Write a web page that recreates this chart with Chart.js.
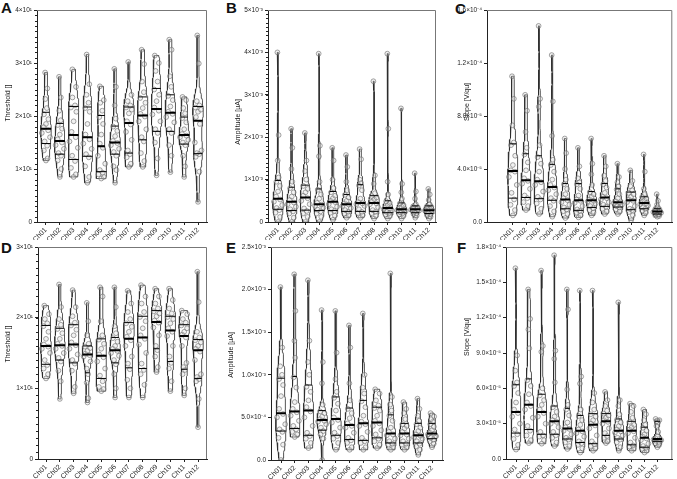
<!DOCTYPE html>
<html>
<head>
<meta charset="utf-8">
<script src="https://cdn.jsdelivr.net/npm/chart.js@4.4.0/dist/chart.umd.min.js"></script>
<style>
  body { margin: 0; background: #fff; width: 677px; height: 479px; position: relative; overflow: hidden; }
  canvas { position: absolute; }
  .tag { position: absolute; font: bold 15px "Liberation Sans", Arial, sans-serif; line-height: 15px; color: #111; }
</style>
</head>
<body>
<div class="tag" style="left:1px;top:0px">A</div>
<div class="tag" style="left:226px;top:0px">B</div>
<div class="tag" style="left:455px;top:1px">C</div>
<div class="tag" style="left:1px;top:240px">D</div>
<div class="tag" style="left:226px;top:240px">E</div>
<div class="tag" style="left:457px;top:240px">F</div>
<canvas id="cA"></canvas>
<canvas id="cB"></canvas>
<canvas id="cC"></canvas>
<canvas id="cD"></canvas>
<canvas id="cE"></canvas>
<canvas id="cF"></canvas>
<script>
const channels = ['Ch01','Ch02','Ch03','Ch04','Ch05','Ch06','Ch07','Ch08','Ch09','Ch10','Ch11','Ch12'];

// A - threshold, first group
const thr1Pts = [
  [11.6,12.0,13.5,14.4,15.2,16.0,16.8,17.3,17.9,18.5,19.4,20.3,21.5,23.2,25.2,28.2],
  [8.5,10.0,11.6,12.5,13.0,13.8,14.5,15.0,15.6,16.5,17.6,18.3,19.2,21.0,23.5,27.4],
  [8.5,9.0,10.2,11.5,12.5,14.0,15.2,16.0,17.0,19.0,20.8,21.6,22.0,23.5,25.5,28.8],
  [7.4,8.5,10.5,12.2,12.8,13.8,14.8,15.6,16.5,18.5,20.8,21.5,22.5,24.0,26.0,31.6],
  [8.2,8.5,9.0,9.3,9.8,11.0,12.5,14.0,14.8,16.5,18.5,19.8,21.0,22.5,23.0,25.6],
  [7.4,9.8,10.5,12.5,13.2,13.8,14.5,14.9,15.3,16.2,17.2,18.0,19.5,22.0,25.5,28.9],
  [10.4,11.0,12.2,12.8,13.5,15.5,17.0,18.4,19.0,20.5,21.2,21.6,22.0,22.8,24.0,30.2],
  [10.4,11.5,13.0,15.2,16.0,17.5,19.0,19.9,20.4,21.5,22.5,23.4,24.5,26.5,29.8,32.5],
  [8.8,12.0,15.0,16.8,17.5,19.0,20.3,21.0,21.6,22.8,24.0,25.0,26.5,28.5,30.0,31.4],
  [9.4,12.5,14.5,16.8,17.5,18.8,19.8,20.4,20.8,21.8,23.0,23.8,25.5,27.5,32.5,34.4],
  [8.5,10.5,12.5,14.5,15.0,15.5,16.0,16.3,16.6,17.5,18.8,19.6,20.5,21.5,23.0,23.6],
  [3.8,9.5,12.3,12.8,13.0,13.5,15.0,18.5,19.8,20.8,21.2,21.6,22.0,22.8,29.9,35.2]
];
const thr1Q1  = [14.8,12.8,11.8,12.4,9.5,12.8,13.0,15.5,17.1,17.1,14.7,12.9];
const thr1Med = [17.6,15.3,16.4,16.0,14.3,15.0,18.7,20.1,21.3,20.6,16.4,19.1];
const thr1Q3  = [20.7,18.6,21.8,21.7,20.1,18.1,21.7,23.6,25.2,24.0,19.8,21.8];
const thr1Ticks = [0,10,20,30,40];
const thr1Labels = ['0','1×10¹','2×10¹','3×10¹','4×10¹'];

// B - amplitude, first group (values in 10^-3 µA)
const amp1Pts = [
  [0.0,0.12,0.22,0.28,0.33,0.40,0.48,0.53,0.60,0.72,0.85,0.95,1.05,1.45,2.05,4.0],
  [0.0,0.10,0.20,0.25,0.30,0.36,0.42,0.46,0.52,0.60,0.70,0.80,0.95,1.25,1.75,2.2],
  [0.0,0.12,0.20,0.26,0.32,0.42,0.50,0.56,0.62,0.70,0.78,0.85,1.0,1.2,1.45,2.1],
  [0.0,0.12,0.20,0.25,0.29,0.34,0.38,0.41,0.45,0.55,0.65,0.76,0.95,1.55,1.8,3.97],
  [0.05,0.15,0.22,0.26,0.30,0.36,0.42,0.47,0.50,0.56,0.62,0.70,0.80,1.0,1.45,1.75],
  [0.10,0.16,0.20,0.24,0.28,0.33,0.38,0.41,0.44,0.50,0.58,0.64,0.75,0.95,1.3,1.58],
  [0.10,0.16,0.21,0.24,0.30,0.38,0.42,0.44,0.47,0.55,0.75,0.86,0.92,1.0,1.48,1.72],
  [0.08,0.15,0.21,0.24,0.28,0.35,0.42,0.44,0.48,0.54,0.58,0.61,0.68,0.9,1.1,3.32],
  [0.08,0.14,0.18,0.21,0.24,0.27,0.30,0.32,0.35,0.40,0.45,0.49,0.65,0.95,2.2,3.97],
  [0.08,0.14,0.18,0.21,0.23,0.26,0.28,0.30,0.32,0.36,0.40,0.44,0.55,0.7,0.9,2.68],
  [0.10,0.15,0.19,0.21,0.24,0.27,0.29,0.30,0.31,0.33,0.35,0.37,0.42,0.55,0.72,1.15],
  [0.08,0.12,0.16,0.19,0.22,0.25,0.27,0.28,0.30,0.33,0.36,0.37,0.42,0.52,0.65,0.78]
];
const amp1Q1  = [0.30,0.27,0.28,0.27,0.27,0.25,0.25,0.25,0.22,0.22,0.22,0.20];
const amp1Med = [0.55,0.48,0.58,0.42,0.48,0.42,0.45,0.45,0.33,0.30,0.30,0.28];
const amp1Q3  = [0.98,0.82,0.87,0.78,0.72,0.65,0.88,0.62,0.50,0.45,0.38,0.38];
const amp1Ticks = [0,1,2,3,4,5];
const amp1Labels = ['0','1×10⁻³','2×10⁻³','3×10⁻³','4×10⁻³','5×10⁻³'];

// C - slope, first group (values in 10^-5)
const slope1Pts = [
  [0.5,0.9,1.3,1.7,2.2,2.8,3.4,3.8,3.9,4.3,5.0,5.8,6.0,7.3,9.3,11.0],
  [0.9,1.2,1.5,1.8,2.0,2.5,2.9,3.1,3.3,3.9,4.5,5.1,5.6,6.8,8.4,9.6],
  [0.6,1.0,1.4,1.7,1.9,2.3,2.8,3.0,3.2,3.8,4.4,4.9,5.8,8.7,9.3,14.8],
  [0.4,0.8,1.2,1.6,1.8,2.1,2.4,2.6,2.8,3.2,3.8,4.3,4.7,6.5,9.1,12.6],
  [0.3,0.6,0.8,0.95,1.1,1.3,1.5,1.65,1.8,2.1,2.5,2.85,3.2,4.0,5.2,6.3],
  [0.35,0.5,0.7,0.85,0.95,1.2,1.45,1.6,1.7,2.0,2.5,2.85,3.0,3.3,4.2,5.6],
  [0.5,0.7,0.9,1.05,1.2,1.4,1.55,1.6,1.7,1.9,2.1,2.25,2.8,3.6,4.4,6.3],
  [0.6,0.8,1.0,1.15,1.3,1.5,1.7,1.8,1.9,2.2,2.6,2.85,3.1,3.5,4.2,5.0],
  [0.6,0.8,0.95,1.1,1.2,1.3,1.4,1.48,1.55,1.8,2.1,2.45,2.7,3.0,3.4,4.4],
  [0.13,0.5,0.75,0.9,1.0,1.2,1.5,1.6,1.7,1.9,2.1,2.2,2.4,2.7,3.1,3.9],
  [0.5,0.7,0.85,1.0,1.1,1.25,1.35,1.42,1.5,1.65,1.8,1.9,2.1,2.5,3.8,5.1],
  [0.4,0.45,0.5,0.58,0.65,0.7,0.75,0.8,0.82,0.88,0.95,1.0,1.1,1.3,1.6,2.1]
];
const slope1Q1  = [1.8,1.85,1.76,1.64,1.0,0.88,1.1,1.18,1.13,0.93,1.0,0.6];
const slope1Med = [3.85,3.15,3.07,2.64,1.7,1.64,1.65,1.84,1.5,1.64,1.43,0.8];
const slope1Q3  = [5.9,5.15,5.0,4.35,2.9,2.9,2.3,2.9,2.5,2.26,1.9,1.0];
const slope1Ticks = [0,4,8,12,16];
const slope1Labels = ['0.0','4.0×10⁻⁵','8.0×10⁻⁵','1.2×10⁻⁴','1.6×10⁻⁴'];

// D - threshold, second group
const thr2Pts = [
  [11.4,12.0,12.8,13.3,14.0,15.0,15.6,15.9,16.2,17.0,18.0,18.8,19.2,19.8,20.5,21.7],
  [8.5,11.0,12.5,13.8,14.3,15.0,15.6,16.0,16.3,17.0,17.8,18.4,19.0,19.8,21.5,24.7],
  [9.3,10.2,12.5,13.5,14.0,14.8,15.6,16.1,16.5,17.5,18.3,18.9,19.3,20.2,21.5,23.9],
  [8.0,8.6,10.8,12.0,12.8,13.8,14.5,14.7,14.9,15.3,15.7,15.9,16.3,17.5,19.5,22.1],
  [9.6,9.9,10.2,11.0,11.8,12.8,13.8,14.4,14.8,15.6,16.3,16.9,17.5,19.5,23.0,24.3],
  [8.7,10.0,12.0,13.4,14.0,14.6,15.0,15.3,15.6,16.0,16.6,17.1,17.8,18.8,21.5,24.3],
  [8.7,10.0,11.2,12.7,13.5,14.5,16.0,16.8,17.3,18.0,18.7,19.2,19.8,20.8,22.0,23.8],
  [8.7,10.5,12.0,12.6,13.5,15.0,16.2,17.0,17.5,18.5,19.5,20.1,20.8,22.0,23.0,24.6],
  [12.3,13.0,14.5,15.4,16.0,17.5,18.6,19.3,19.6,20.2,20.6,20.9,21.3,22.0,23.0,24.1],
  [9.6,11.0,12.8,13.6,14.5,16.0,17.4,18.0,18.5,19.2,19.8,20.1,20.6,21.3,22.5,24.1],
  [9.0,10.0,12.0,12.6,13.0,13.6,16.0,17.2,17.6,18.0,18.5,18.9,19.3,19.8,20.5,21.0],
  [4.5,8.5,11.0,11.3,11.6,12.0,14.0,15.2,15.6,16.0,16.5,16.8,17.2,18.0,22.2,26.5]
];
const thr2Q1  = [13.4,14.0,13.6,12.2,11.4,13.6,12.9,12.8,15.6,13.8,12.7,11.4];
const thr2Med = [16.0,16.1,16.2,14.8,14.6,15.4,17.0,17.2,19.4,18.2,17.4,15.4];
const thr2Q3  = [18.9,18.5,19.0,16.0,17.0,17.2,19.3,20.2,21.0,20.2,19.0,16.9];
const thr2Ticks = [0,10,20,30];
const thr2Labels = ['0','1×10¹','2×10¹','3×10¹'];

// E - amplitude, second group (values in 10^-4 µA)
const amp2Pts = [
  [0.0,1.8,2.6,3.3,3.6,4.2,5.0,5.4,6.0,7.5,8.8,9.5,10.0,11.0,13.2,20.3],
  [2.7,3.0,3.3,3.6,4.0,4.6,5.2,5.6,6.0,6.8,8.5,9.7,12.0,14.0,17.5,21.8],
  [1.4,2.0,2.5,2.8,3.2,4.0,5.0,5.7,6.2,7.0,8.0,8.6,10.0,11.5,14.0,21.1],
  [0.0,2.5,3.0,3.4,3.8,4.2,4.5,4.6,4.8,5.1,5.5,5.7,6.5,9.0,11.5,17.6],
  [1.2,2.0,2.5,2.8,3.2,3.8,4.4,4.7,5.0,5.8,6.6,7.3,8.0,9.5,12.6,17.5],
  [1.2,1.5,2.0,2.3,2.6,3.2,3.8,4.0,4.3,4.9,5.5,6.0,7.0,9.0,13.2,15.8],
  [1.2,1.5,2.0,2.2,2.6,3.3,4.0,4.2,4.5,5.2,6.2,6.9,7.8,8.5,10.0,17.2],
  [1.4,1.8,2.2,2.5,3.0,3.5,4.0,4.3,4.6,5.2,5.8,6.1,6.4,7.0,7.8,8.3],
  [1.2,1.5,1.8,1.9,2.2,2.5,2.9,3.0,3.3,3.8,4.6,5.2,5.8,6.5,7.4,21.9],
  [1.2,1.5,1.8,1.9,2.2,2.5,2.9,3.0,3.3,3.7,4.0,4.2,4.8,5.5,6.0,6.8],
  [0.6,1.2,1.6,1.9,2.2,2.5,2.7,2.85,3.0,3.4,3.8,4.2,4.6,5.2,6.0,7.2],
  [1.5,1.9,2.2,2.4,2.6,2.8,3.0,3.1,3.2,3.5,3.9,4.2,4.5,4.8,5.1,5.5]
];
const amp2Q1  = [3.4,3.7,2.9,3.5,2.9,2.4,2.3,2.6,2.0,2.0,2.0,2.5];
const amp2Med = [5.5,5.7,5.8,4.7,4.8,4.1,4.3,4.4,3.1,3.1,2.9,3.1];
const amp2Q3  = [9.6,9.8,8.8,5.8,7.4,6.1,7.0,6.2,5.3,4.3,4.3,4.3];
const amp2Ticks = [0,5,10,15,20,25];
const amp2Labels = ['0.0','5.0×10⁻⁴','1.0×10⁻³','1.5×10⁻³','2.0×10⁻³','2.5×10⁻³'];

// F - slope, second group (values in 10^-5)
const slope2Pts = [
  [0.8,1.2,1.7,2.1,2.5,3.0,3.6,3.9,4.2,4.8,5.6,6.2,6.5,7.5,8.8,16.2],
  [1.35,1.6,2.0,2.4,2.8,3.5,4.2,4.5,4.8,5.5,6.2,6.7,9.4,11.0,11.9,14.4],
  [1.3,1.6,1.9,2.0,2.3,3.0,3.6,3.9,4.2,4.6,5.0,5.4,6.0,9.1,9.6,16.0],
  [1.1,1.4,1.8,2.0,2.3,2.7,3.0,3.15,3.3,3.6,4.0,4.4,6.5,8.5,9.2,17.3],
  [0.85,1.1,1.4,1.65,1.8,2.1,2.4,2.55,2.7,3.1,3.7,4.2,4.6,5.9,12.7,14.4],
  [0.55,0.9,1.2,1.35,1.5,1.9,2.2,2.35,2.5,2.9,3.3,3.65,4.2,6.4,7.0,14.3],
  [0.7,0.9,1.1,1.25,1.5,2.0,2.6,2.85,3.0,3.3,3.6,3.8,4.2,4.8,5.6,14.3],
  [1.35,1.5,1.8,1.95,2.2,2.6,3.0,3.15,3.3,3.5,3.7,3.85,4.1,4.5,5.0,5.7],
  [0.7,1.0,1.4,1.65,1.8,2.0,2.25,2.35,2.5,2.8,3.1,3.35,3.8,4.5,5.0,13.3],
  [0.7,0.9,1.05,1.15,1.4,1.8,2.2,2.35,2.5,2.7,2.9,3.15,3.5,4.0,4.5,4.7],
  [0.55,0.7,0.85,0.95,1.1,1.3,1.6,1.75,1.9,2.1,2.4,2.65,2.9,3.3,3.8,4.2],
  [1.0,1.2,1.35,1.45,1.55,1.6,1.65,1.7,1.75,1.9,2.3,2.8,3.1,3.2,3.3,3.4]
];
const slope2Q1  = [2.2,2.5,2.1,2.1,1.7,1.4,1.3,2.0,1.7,1.2,1.0,1.5];
const slope2Med = [4.0,4.6,4.0,3.2,2.6,2.4,2.9,3.2,2.4,2.4,1.8,1.7];
const slope2Q3  = [6.3,6.8,5.5,4.5,4.3,3.7,3.85,3.85,3.4,3.2,2.7,3.2];
const slope2Ticks = [0,3,6,9,12,15,18];
const slope2Labels = ['0.0','3.0×10⁻⁵','6.0×10⁻⁵','9.0×10⁻⁵','1.2×10⁻⁴','1.5×10⁻⁴','1.8×10⁻⁴'];

Chart.defaults.font.family = '"Liberation Sans", Arial, sans-serif';
Chart.defaults.color = '#222';

// box = canvas [x, y, w, h]; area = plot [left, top, right, bottom]; tpos = y title centre, all page px
const panels = [
  { id:'cA', box:[0,0,226,240],     area:[37,10,207,222],   xr:[-0.65,11.65], pts:thr1Pts,   q1:thr1Q1,   med:thr1Med,   q3:thr1Q3,   ticks:thr1Ticks,   labels:thr1Labels,   title:'Threshold []',   tpos:[8,103],   minor:1 },
  { id:'cB', box:[226,0,225,240],   area:[268,10,436,222],  xr:[-0.73,11.51], pts:amp1Pts,   q1:amp1Q1,   med:amp1Med,   q3:amp1Q3,   ticks:amp1Ticks,   labels:amp1Labels,   title:'Amplitude [µA]', tpos:[238,122], minor:0.1 },
  { id:'cC', box:[451,0,226,240],   area:[487,10,673,222],  xr:[-1.97,12.14], pts:slope1Pts, q1:slope1Q1, med:slope1Med, q3:slope1Q3, ticks:slope1Ticks, labels:slope1Labels, title:'Slope [V/qu]',   tpos:[467,102], minor:0 },
  { id:'cD', box:[0,240,226,239],   area:[38,247,207,459],  xr:[-0.58,11.65], pts:thr2Pts,   q1:thr2Q1,   med:thr2Med,   q3:thr2Q3,   ticks:thr2Ticks,   labels:thr2Labels,   title:'Threshold []',   tpos:[8,344],   minor:1 },
  { id:'cE', box:[226,240,225,239], area:[271,247,443,460], xr:[-0.73,11.8],  pts:amp2Pts,   q1:amp2Q1,   med:amp2Med,   q3:amp2Q3,   ticks:amp2Ticks,   labels:amp2Labels,   title:'Amplitude [µA]', tpos:[231,355], minor:0 },
  { id:'cF', box:[451,240,226,239], area:[506,247,673,459], xr:[-0.78,12.16], pts:slope2Pts, q1:slope2Q1, med:slope2Med, q3:slope2Q3, ticks:slope2Ticks, labels:slope2Labels, title:'Slope [V/qu]',   tpos:[467,337], minor:0 }
];

const HALF = 0.38;
const jitter = [0, 0.55, -0.55, 0.28, -0.28, 0.8, -0.8, 0.42, -0.42];

function kde(vals, h, y) {
  let s = 0;
  for (const v of vals) { const u = (y - v) / h; s += Math.exp(-0.5 * u * u); }
  return s;
}

function bandwidth(vals) {
  const s = [...vals].sort((a, b) => a - b), n = s.length;
  const mean = s.reduce((a, b) => a + b, 0) / n;
  const sd = Math.sqrt(s.reduce((a, b) => a + (b - mean) ** 2, 0) / (n - 1));
  const iqr = s[Math.floor(n * 0.75)] - s[Math.floor(n * 0.25)];
  return 0.9 * Math.min(sd, iqr / 1.34) * Math.pow(n, -0.2) * 0.75;
}

function buildSets(p) {
  const outline = [], dots = [], qLines = [], mLines = [];
  p.pts.forEach((vals, i) => {
    const lo = Math.min(...vals), hi = Math.max(...vals);
    const h = bandwidth(vals);
    const N = 90, ys = [], ds = [];
    for (let k = 0; k <= N; k++) { const y = lo + (hi - lo) * k / N; ys.push(y); ds.push(kde(vals, h, y)); }
    const dmax = Math.max(...ds);
    const half = y => kde(vals, h, y) / dmax * HALF;
    ys.forEach((y, k) => outline.push({ x: i + ds[k] / dmax * HALF, y }));
    for (let k = N; k >= 0; k--) outline.push({ x: i - ds[k] / dmax * HALF, y: ys[k] });
    outline.push({ x: i + ds[0] / dmax * HALF, y: ys[0] });
    outline.push({ x: null, y: null });
    [...vals].sort((a, b) => a - b).forEach((v, k) => {
      dots.push({ x: i + half(v) * jitter[k % jitter.length], y: v });
    });
    [p.q1[i], p.q3[i]].forEach(q => {
      const w = half(q);
      qLines.push({ x: i - w, y: q }, { x: i + w, y: q }, { x: null, y: null });
    });
    const wm = half(p.med[i]);
    mLines.push({ x: i - wm, y: p.med[i] }, { x: i + wm, y: p.med[i] }, { x: null, y: null });
  });
  return { outline, dots, qLines, mLines };
}

// gray top/right frame, minor y ticks and the rotated y title
const framePlugin = {
  id: 'frame',
  afterDraw(chart, args, opts) {
    const { ctx, chartArea: a } = chart;
    ctx.save();
    ctx.strokeStyle = '#777';
    ctx.lineWidth = 1;
    ctx.beginPath();
    ctx.moveTo(a.left, a.top + 0.5);
    ctx.lineTo(a.right - 0.5, a.top + 0.5);
    ctx.lineTo(a.right - 0.5, a.bottom);
    ctx.stroke();
    if (opts.minor) {
      const y = chart.scales.y;
      ctx.strokeStyle = '#222';
      ctx.beginPath();
      for (let v = 0; v <= y.max + 1e-9; v += opts.minor) {
        const py = Math.round(y.getPixelForValue(v)) + 0.5;
        ctx.moveTo(a.left - 2, py);
        ctx.lineTo(a.left, py);
      }
      ctx.stroke();
    }
    ctx.translate(opts.tx, opts.ty);
    ctx.rotate(-Math.PI / 2);
    ctx.fillStyle = '#222';
    ctx.font = '7px "Liberation Sans", Arial, sans-serif';
    ctx.textAlign = 'center';
    ctx.textBaseline = 'middle';
    ctx.fillText(opts.title, 0, 0);
    ctx.restore();
  }
};

panels.forEach(p => {
  const cv = document.getElementById(p.id);
  const [bx, by, bw, bh] = p.box;
  const [al, at, ar, ab] = p.area;
  cv.width = bw; cv.height = bh;
  cv.style.left = bx + 'px'; cv.style.top = by + 'px';
  cv.style.width = bw + 'px'; cv.style.height = bh + 'px';
  const s = buildSets(p);
  const yMax = p.ticks[p.ticks.length - 1];

  new Chart(cv, {
    type: 'scatter',
    data: {
      datasets: [
        { type: 'line', data: s.mLines, borderColor: '#000', borderWidth: 2, pointRadius: 0, order: 1 },
        { type: 'line', data: s.qLines, borderColor: '#000', borderWidth: 1, pointRadius: 0, order: 1 },
        { data: s.dots, pointRadius: 2.4, pointBorderWidth: 0.7,
          pointBorderColor: 'rgba(105,105,105,0.85)', pointBackgroundColor: 'rgba(215,215,215,0.35)', order: 2 },
        { type: 'line', data: s.outline, borderColor: '#2a2a2a', borderWidth: 0.8, pointRadius: 0, order: 3 }
      ]
    },
    options: {
      responsive: false,
      animation: false,
      layout: { padding: { left: 0, top: at - by, right: bx + bw - ar, bottom: 0 } },
      plugins: {
        legend: { display: false }, tooltip: { enabled: false },
        frame: { minor: p.minor, title: p.title, tx: p.tpos[0] - bx, ty: p.tpos[1] - by }
      },
      scales: {
        x: {
          type: 'linear', min: p.xr[0], max: p.xr[1],
          afterBuildTicks: sc => { sc.ticks = channels.map((c, i) => ({ value: i })); },
          afterFit: sc => { sc.height = by + bh - ab; sc.paddingLeft = 0; sc.paddingRight = 0; },
          ticks: { autoSkip: false, minRotation: 45, maxRotation: 45, padding: 1, font: { size: 7 }, color: '#222',
                   callback: v => channels[Math.round(v)] },
          grid: { drawOnChartArea: false, tickLength: 3, color: '#222' },
          border: { color: '#222', width: 1 }
        },
        y: {
          min: 0, max: yMax,
          afterBuildTicks: sc => { sc.ticks = p.ticks.map(v => ({ value: v })); },
          afterFit: sc => { sc.width = al - bx; sc.paddingTop = 0; sc.paddingBottom = 0; },
          ticks: { padding: 2, font: { size: 6.5 }, color: '#222',
                   callback: (v, i) => p.labels[i] },
          grid: { drawOnChartArea: false, tickLength: 3, color: '#222' },
          border: { color: '#222', width: 1 }
        }
      }
    },
    plugins: [framePlugin]
  });
});
</script>
</body>
</html>
